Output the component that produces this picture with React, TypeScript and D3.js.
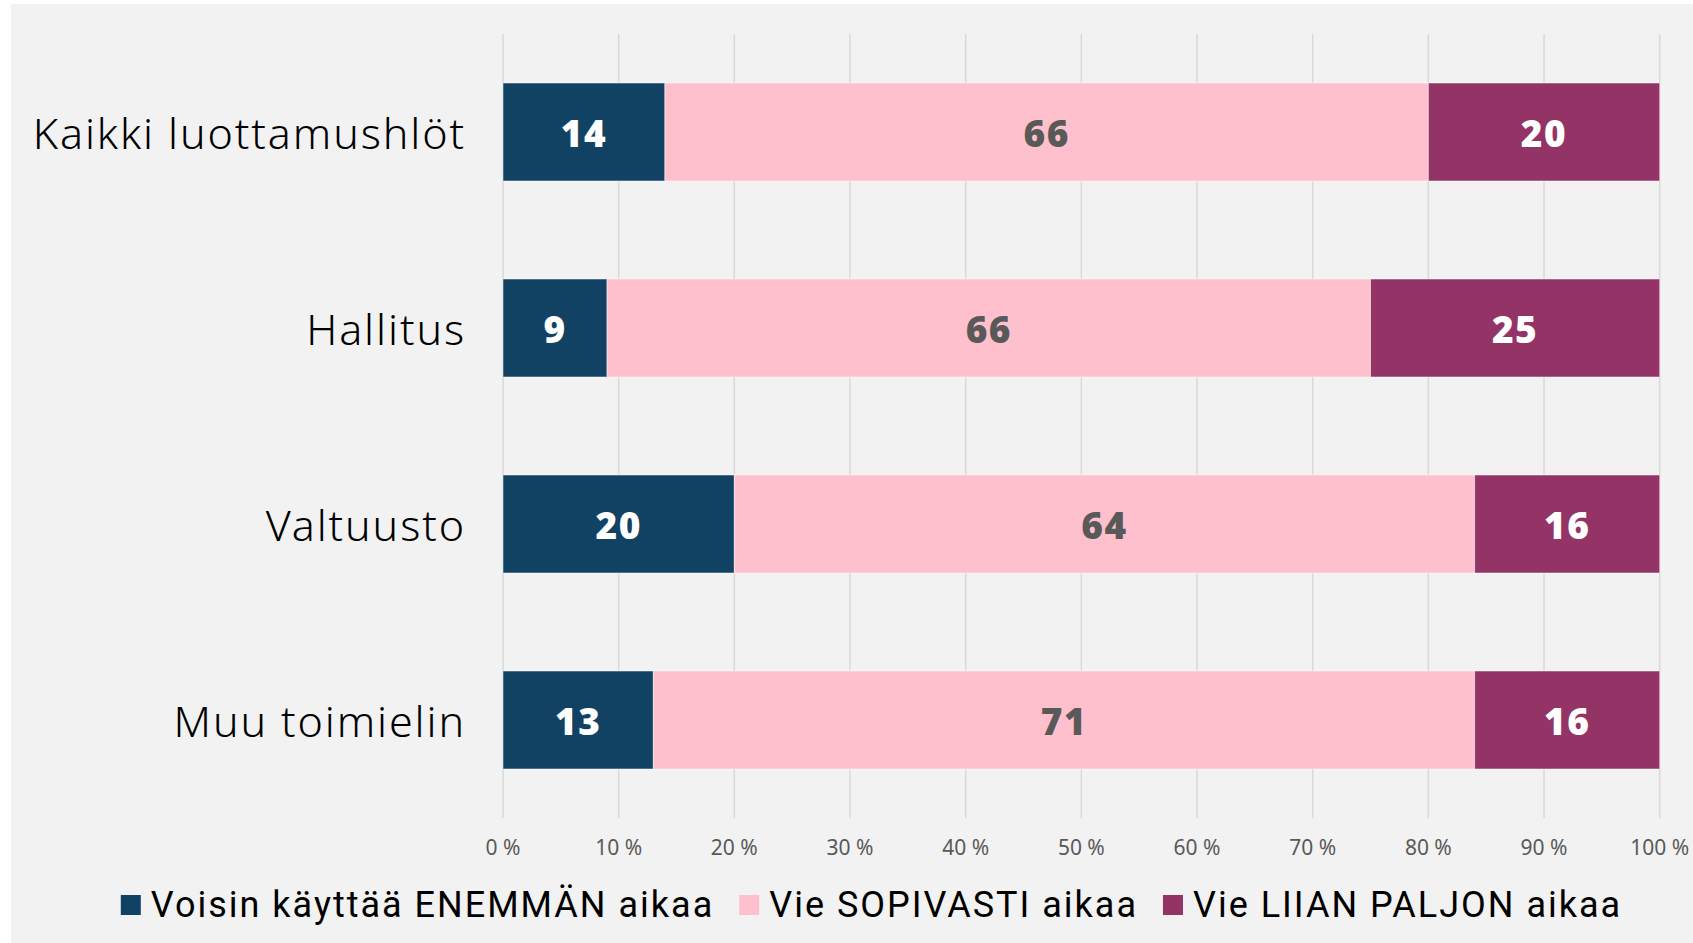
import React, { useEffect, useRef } from "react";
import * as d3 from "d3";

const categories = ["Kaikki luottamushlöt", "Hallitus", "Valtuusto", "Muu toimielin"];
const enemman = [14, 9, 20, 13];
const sopivasti = [66, 66, 64, 71];
const liian = [20, 25, 16, 16];
const seriesNames = ["Voisin käyttää ENEMMÄN aikaa", "Vie SOPIVASTI aikaa", "Vie LIIAN PALJON aikaa"];
const seriesColors = ["#124263", "#ffc0cd", "#933366"];
const labelColors = ["#ffffff", "#595959", "#ffffff"];
const tickValues = [0, 10, 20, 30, 40, 50, 60, 70, 80, 90, 100];
const tickLabels = tickValues.map((v) => `${v} %`);

const W = 1693;
const H = 943;

export default function App() {
  const ref = useRef<SVGSVGElement | null>(null);

  useEffect(() => {
    const svg = d3.select(ref.current);
    svg.selectAll("*").remove();

    svg.append("rect").attr("x", 11).attr("y", 4).attr("width", W - 11).attr("height", H - 4).attr("fill", "#f2f2f2");

    const x = d3.scaleLinear().domain([0, 100]).range([503, 1659.7]);
    const y = d3.scaleBand<string>().domain(categories).range([34, 818]).paddingInner(0.5).paddingOuter(0.25);

    svg.append("g").selectAll("line").data(tickValues).join("line")
      .attr("x1", (d) => x(d)).attr("x2", (d) => x(d))
      .attr("y1", 34).attr("y2", 818)
      .attr("stroke", "#d9d9d9").attr("stroke-width", 1.5);

    svg.append("g").selectAll("text").data(tickValues).join("text")
      .attr("x", (d) => x(d)).attr("y", 847)
      .attr("text-anchor", "middle").attr("dominant-baseline", "central")
      .attr("font-family", "'Noto Sans', sans-serif").attr("font-size", 21)
      .attr("fill", "#595959")
      .text((d, i) => tickLabels[i]);

    const table = categories.map((c, i) => ({ cat: c, vals: [enemman[i], sopivasti[i], liian[i]] }));
    const stack = d3.stack<any>().keys(["0", "1", "2"]).value((d, k) => d.vals[+k]);
    const stacked = stack(table);

    stacked.forEach((layer, si) => {
      const g = svg.append("g");
      g.selectAll("rect").data(layer).join("rect")
        .attr("x", (d) => x(d[0]))
        .attr("y", (d) => y(d.data.cat)!)
        .attr("width", (d) => x(d[1]) - x(d[0]))
        .attr("height", y.bandwidth())
        .attr("fill", seriesColors[si])
        .attr("stroke", "rgba(255,255,255,0.5)").attr("stroke-width", 1);
      g.selectAll("text").data(layer).join("text")
        .attr("x", (d) => (x(d[0]) + x(d[1])) / 2)
        .attr("y", (d) => y(d.data.cat)! + y.bandwidth() / 2)
        .attr("text-anchor", "middle").attr("dominant-baseline", "central")
        .attr("font-family", "'Open Sans', sans-serif").attr("font-weight", 800)
        .attr("font-size", 37).attr("letter-spacing", 1.5).attr("fill", labelColors[si])
        .text((d) => String(d[1] - d[0]));
    });

    svg.append("g").selectAll("text").data(categories).join("text")
      .attr("x", 466).attr("y", (d) => y(d)! + y.bandwidth() / 2)
      .attr("text-anchor", "end").attr("dominant-baseline", "central")
      .attr("font-family", "'Noto Sans', sans-serif").attr("font-weight", 300)
      .attr("font-size", 43).attr("letter-spacing", 1.9)
      .attr("fill", "#000000")
      .text((d) => d);

    const lg = svg.append("g");
    const items = seriesNames.map((name, i) => {
      const g = lg.append("g");
      g.append("rect").attr("x", 0).attr("y", -10).attr("width", 20).attr("height", 20).attr("fill", seriesColors[i]);
      const t = g.append("text").attr("x", 30).attr("y", 0)
        .attr("dominant-baseline", "central")
        .attr("font-family", "'Roboto', sans-serif").attr("font-size", 36)
        .attr("letter-spacing", 2)
        .attr("fill", "#000000").text(name);
      const w = (t.node() as SVGTextElement).getComputedTextLength();
      return { g, w: 30 + w };
    });
    const gap = 25;
    const total = d3.sum(items, (d) => d.w) + gap * (items.length - 1);
    let cx = 871.5 - total / 2;
    items.forEach((it) => {
      it.g.attr("transform", `translate(${cx},905)`);
      cx += it.w + gap;
    });
  }, []);

  return (
    <div style={{ position: "absolute", left: 0, top: 0 }}>
      <svg ref={ref} width={W} height={H} style={{ display: "block" }} />
    </div>
  );
}
